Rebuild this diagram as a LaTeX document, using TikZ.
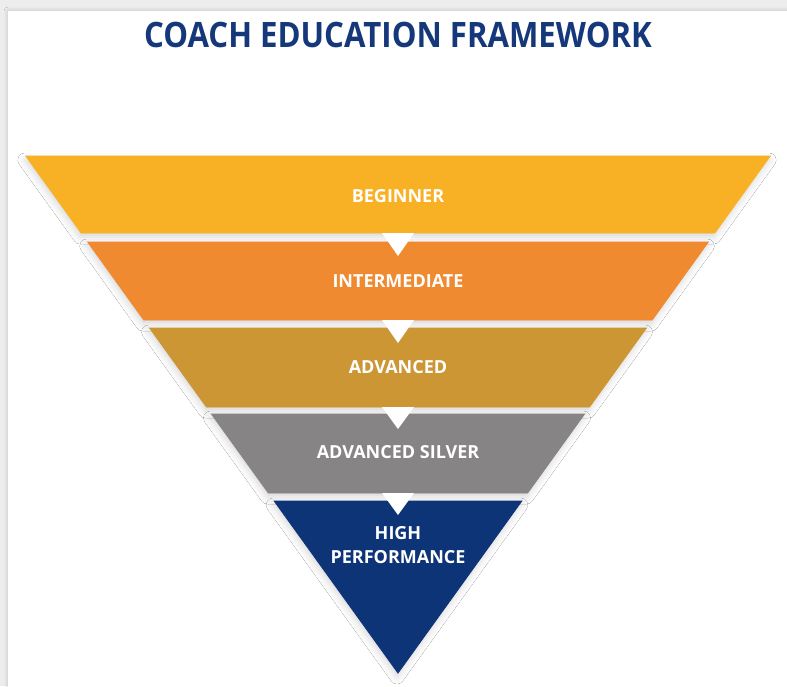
\documentclass[tikz,border=0pt]{standalone}
\usepackage{fontspec}
\setmainfont{Open Sans}
\usetikzlibrary{shadows.blur}
\definecolor{titleblue}{HTML}{15387A}
\definecolor{beginner}{HTML}{F8B124}
\definecolor{intermediate}{HTML}{F08A31}
\definecolor{advanced}{HTML}{CD9634}
\definecolor{silver}{HTML}{868484}
\definecolor{highperf}{HTML}{0E3478}
\begin{document}
\begin{tikzpicture}[x=1pt,y=-1pt,
    band/.style={draw=white, line width=0.9pt, line join=miter,
        blur shadow={shadow xshift=-1pt, shadow yshift=-4pt, shadow blur radius=7pt, shadow opacity=16}},
    notch/.style={fill=white},
    lab/.style={text=white, font=\bfseries\fontsize{18}{24}\selectfont, align=center, inner sep=0pt}]
    \useasboundingbox (0,0) rectangle (787,686);
    \fill[black!7] (0,0) rectangle (787,686);
    \fill[white, blur shadow={shadow xshift=0pt, shadow yshift=0pt, shadow blur radius=4pt, shadow opacity=20}] (8,11) rectangle (800,700);

    \node[text=titleblue, font=\bfseries\fontsize{35}{40}\selectfont, inner sep=0pt] (title) at (398,35) {\scalebox{0.89}[1]{COACH EDUCATION FRAMEWORK}};

    % the five levels, all on one triangle with its tip at (398,673)
    \fill[band, beginner] (25.8,156) -- (770.2,156) -- (714.8,233) -- (81.2,233) -- cycle;
    \fill[band, intermediate] (87.7,242) -- (708.3,242) -- (652.2,320) -- (143.8,320) -- cycle;
    \fill[band, advanced] (149.6,328) -- (646.4,328) -- (589.5,407) -- (206.5,407) -- cycle;
    \fill[band, silver] (211.5,414) -- (584.5,414) -- (527.6,493) -- (268.4,493) -- cycle;
    \fill[band, highperf] (274.2,501) -- (521.8,501) -- (398,673) -- cycle;

    \fill[notch] (382,233) -- (414,233) -- (398,256) -- cycle;
    \fill[notch] (382,320) -- (414,320) -- (398,343) -- cycle;
    \fill[notch] (382,407) -- (414,407) -- (398,429) -- cycle;
    \fill[notch] (382,493) -- (414,493) -- (398,515) -- cycle;

    \node[lab] (beg) at (398,196) {BEGINNER};
    \node[lab] (inter) at (398,281) {INTERMEDIATE};
    \node[lab] (adv) at (398,367) {ADVANCED};
    \node[lab] (silv) at (398,452) {ADVANCED SILVER};
    \node[lab] (high) at (398,545) {HIGH\\PERFORMANCE};
\end{tikzpicture}
\end{document}
